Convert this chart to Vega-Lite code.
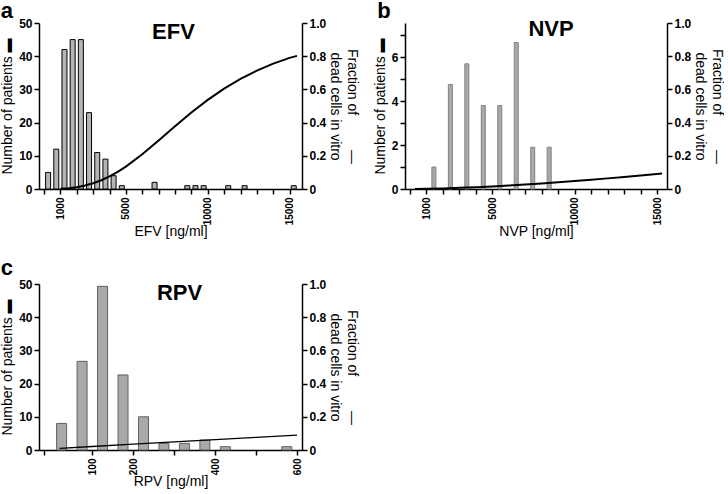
{
  "$schema": "https://vega.github.io/schema/vega-lite/v6.json",
  "padding": {"left": 0, "top": 0, "right": 0, "bottom": 0},
  "background": "white",
  "datasets": {
    "efv_bars": [
      {"conc": 250, "patients": 5}, {"conc": 750, "patients": 12}, {"conc": 1250, "patients": 42},
      {"conc": 1750, "patients": 45}, {"conc": 2250, "patients": 45}, {"conc": 2750, "patients": 23},
      {"conc": 3250, "patients": 11}, {"conc": 3750, "patients": 9}, {"conc": 4250, "patients": 4},
      {"conc": 4750, "patients": 1}, {"conc": 6750, "patients": 2}, {"conc": 8750, "patients": 1},
      {"conc": 9250, "patients": 1}, {"conc": 9750, "patients": 1}, {"conc": 11250, "patients": 1},
      {"conc": 12250, "patients": 1}, {"conc": 15250, "patients": 1}
    ],
    "efv_curve": [
      {"conc": 1000, "fraction": 0.0015}, {"conc": 1500, "fraction": 0.005}, {"conc": 2000, "fraction": 0.011},
      {"conc": 2500, "fraction": 0.021}, {"conc": 3000, "fraction": 0.035}, {"conc": 3500, "fraction": 0.053},
      {"conc": 4000, "fraction": 0.076}, {"conc": 4500, "fraction": 0.103}, {"conc": 5000, "fraction": 0.135},
      {"conc": 6000, "fraction": 0.209}, {"conc": 7000, "fraction": 0.292}, {"conc": 8000, "fraction": 0.378},
      {"conc": 9000, "fraction": 0.461}, {"conc": 10000, "fraction": 0.537}, {"conc": 11000, "fraction": 0.605},
      {"conc": 12000, "fraction": 0.663}, {"conc": 13000, "fraction": 0.713}, {"conc": 14000, "fraction": 0.755},
      {"conc": 15000, "fraction": 0.79}, {"conc": 15450, "fraction": 0.802}
    ],
    "nvp_bars": [
      {"conc": 1450, "patients": 1.0}, {"conc": 2450, "patients": 4.76}, {"conc": 3450, "patients": 5.7},
      {"conc": 4450, "patients": 3.8}, {"conc": 5450, "patients": 3.8}, {"conc": 6450, "patients": 6.67},
      {"conc": 7450, "patients": 1.9}, {"conc": 8450, "patients": 1.9}
    ],
    "nvp_curve": [
      {"conc": 300, "fraction": 0.0}, {"conc": 1000, "fraction": 0.0012}, {"conc": 2000, "fraction": 0.0036},
      {"conc": 3000, "fraction": 0.0069}, {"conc": 4000, "fraction": 0.011}, {"conc": 5000, "fraction": 0.0157},
      {"conc": 6000, "fraction": 0.021}, {"conc": 7000, "fraction": 0.027}, {"conc": 8000, "fraction": 0.033},
      {"conc": 9000, "fraction": 0.04}, {"conc": 10000, "fraction": 0.048}, {"conc": 11000, "fraction": 0.055},
      {"conc": 12000, "fraction": 0.064}, {"conc": 13000, "fraction": 0.072}, {"conc": 14000, "fraction": 0.082},
      {"conc": 15300, "fraction": 0.094}
    ],
    "rpv_bars": [
      {"conc": 25, "patients": 8}, {"conc": 75, "patients": 26.7}, {"conc": 125, "patients": 49.3},
      {"conc": 175, "patients": 22.6}, {"conc": 225, "patients": 10}, {"conc": 275, "patients": 2},
      {"conc": 325, "patients": 2}, {"conc": 375, "patients": 3}, {"conc": 425, "patients": 1},
      {"conc": 575, "patients": 1}
    ],
    "rpv_curve": [
      {"conc": 20, "fraction": 0.01}, {"conc": 100, "fraction": 0.021}, {"conc": 200, "fraction": 0.035},
      {"conc": 300, "fraction": 0.049}, {"conc": 400, "fraction": 0.062}, {"conc": 500, "fraction": 0.076},
      {"conc": 600, "fraction": 0.09}
    ]
  },
  "spacing": 18,
  "vconcat": [
    {
      "spacing": 14,
      "hconcat": [
        {
          "title": {"text": "a", "anchor": "start", "fontSize": 22, "fontWeight": "bold", "offset": -6},
          "vconcat": [
            {
              "width": 263,
              "height": 166,
              "title": {"text": "EFV", "fontSize": 22, "fontWeight": "bold", "anchor": "middle", "offset": -27, "dx": 3},
              "encoding": {
                "x": {"field": "conc", "type": "quantitative",
                  "scale": {"domain": [0, 15450], "nice": false, "zero": false},
                  "axis": {"values": [0,1000,2000,3000,4000,5000,6000,7000,8000,9000,10000,11000,12000,13000,14000,15000],
                    "labelExpr": "indexof([1000,5000,10000,15000], datum.value) >= 0 ? format(datum.value, 'd') : ''",
                    "labelAngle": -90, "labelFontSize": 10, "labelPadding": 3, "titlePadding": 0, "title": "EFV [ng/ml]"}}
              },
              "layer": [
                {
                  "data": {"name": "efv_bars"},
                  "mark": {"type": "bar", "size": 5, "fill": "#b4b4b4", "stroke": "black", "strokeWidth": 1},
                  "encoding": {
                    "y": {"field": "patients", "type": "quantitative",
                      "scale": {"domain": [0, 50], "nice": false},
                      "axis": {"orient": "left", "values": [0,10,20,30,40,50], "title": "Number of patients ▬"}}
                  }
                },
                {
                  "data": {"name": "efv_curve"},
                  "mark": {"type": "line", "color": "black", "strokeWidth": 2},
                  "encoding": {
                    "y": {"field": "fraction", "type": "quantitative",
                      "scale": {"domain": [0, 1], "nice": false},
                      "axis": {"orient": "right", "values": [0,0.2,0.4,0.6,0.8,1.0],
                        "labelExpr": "datum.value == 0 ? '0' : format(datum.value, '.1f')",
                        "titleAngle": 90, "titleLineHeight": 17, "titlePadding": 2,
                        "title": ["\u00a0\u00a0\u00a0\u00a0\u00a0Fraction of\u00a0\u00a0\u00a0\u00a0\u00a0\u00a0\u00a0\u00a0\u00a0—", "dead cells in vitro\u00a0\u00a0\u00a0\u00a0\u00a0\u00a0\u00a0"]}}
                  }
                }
              ],
              "resolve": {"scale": {"y": "independent"}}
            }
          ]
        },
        {
          "title": {"text": "b", "anchor": "start", "fontSize": 22, "fontWeight": "bold", "offset": -6, "dx": 4},
          "vconcat": [
            {
              "width": 262,
              "height": 166,
              "title": {"text": "NVP", "fontSize": 22, "fontWeight": "bold", "anchor": "middle", "offset": -24, "dx": 15},
              "encoding": {
                "x": {"field": "conc", "type": "quantitative",
                  "scale": {"domain": [0, 15300], "nice": false, "zero": false},
                  "axis": {"values": [0,1000,2000,3000,4000,5000,6000,7000,8000,9000,10000,11000,12000,13000,14000,15000],
                    "labelExpr": "indexof([1000,5000,10000,15000], datum.value) >= 0 ? format(datum.value, 'd') : ''",
                    "labelAngle": -90, "labelFontSize": 10, "labelPadding": 3, "titlePadding": 0, "title": "NVP [ng/ml]"}}
              },
              "layer": [
                {
                  "data": {"name": "nvp_bars"},
                  "mark": {"type": "bar", "size": 4, "fill": "#a9a9a9", "stroke": "#808080", "strokeWidth": 1},
                  "encoding": {
                    "y": {"field": "patients", "type": "quantitative",
                      "scale": {"domain": [0, 7.56], "nice": false},
                      "axis": {"orient": "left", "values": [0,1,2,3,4,5,6,7],
                        "labelExpr": "datum.value % 2 == 0 ? format(datum.value, 'd') : ''",
                        "title": "Number of patients ▬"}}
                  }
                },
                {
                  "data": {"name": "nvp_curve"},
                  "mark": {"type": "line", "color": "black", "strokeWidth": 2},
                  "encoding": {
                    "y": {"field": "fraction", "type": "quantitative",
                      "scale": {"domain": [0, 1], "nice": false},
                      "axis": {"orient": "right", "values": [0,0.2,0.4,0.6,0.8,1.0],
                        "labelExpr": "datum.value == 0 ? '0' : format(datum.value, '.1f')",
                        "titleAngle": 90, "titleLineHeight": 17, "titlePadding": 2,
                        "title": ["\u00a0\u00a0\u00a0\u00a0\u00a0Fraction of\u00a0\u00a0\u00a0\u00a0\u00a0\u00a0\u00a0\u00a0\u00a0—", "dead cells in vitro\u00a0\u00a0\u00a0\u00a0\u00a0\u00a0\u00a0"]}}
                  }
                }
              ],
              "resolve": {"scale": {"y": "independent"}}
            }
          ]
        }
      ]
    },
    {
      "title": {"text": "c", "anchor": "start", "fontSize": 22, "fontWeight": "bold", "offset": -2},
      "vconcat": [
        {
          "width": 263,
          "height": 166,
          "title": {"text": "RPV", "fontSize": 22, "fontWeight": "bold", "anchor": "middle", "offset": -27, "dx": 9},
          "encoding": {
            "x": {"field": "conc", "type": "quantitative",
              "scale": {"domain": [-18, 600], "nice": false, "zero": false},
              "axis": {"values": [-18,100,200,300,400,500,600],
                "labelExpr": "indexof([100,200,400,600], datum.value) >= 0 ? format(datum.value, 'd') : ''",
                "labelAngle": -90, "labelFontSize": 10, "labelPadding": 3, "titlePadding": 0, "title": "RPV [ng/ml]"}}
          },
          "layer": [
            {
              "data": {"name": "rpv_bars"},
              "mark": {"type": "bar", "size": 10, "fill": "#a9a9a9", "stroke": "#606060", "strokeWidth": 1},
              "encoding": {
                "y": {"field": "patients", "type": "quantitative",
                  "scale": {"domain": [0, 50], "nice": false},
                  "axis": {"orient": "left", "values": [0,10,20,30,40,50], "title": "Number of patients ▬"}}
              }
            },
            {
              "data": {"name": "rpv_curve"},
              "mark": {"type": "line", "color": "black", "strokeWidth": 1.3},
              "encoding": {
                "y": {"field": "fraction", "type": "quantitative",
                  "scale": {"domain": [0, 1], "nice": false},
                  "axis": {"orient": "right", "values": [0,0.2,0.4,0.6,0.8,1.0],
                    "labelExpr": "datum.value == 0 ? '0' : format(datum.value, '.1f')",
                    "titleAngle": 90, "titleLineHeight": 17, "titlePadding": 2,
                    "title": ["\u00a0\u00a0\u00a0\u00a0\u00a0Fraction of\u00a0\u00a0\u00a0\u00a0\u00a0\u00a0\u00a0\u00a0\u00a0—", "dead cells in vitro\u00a0\u00a0\u00a0\u00a0\u00a0\u00a0\u00a0"]}}
              }
            }
          ],
          "resolve": {"scale": {"y": "independent"}}
        }
      ]
    }
  ],
  "config": {
    "font": "Liberation Sans",
    "view": {"stroke": null},
    "title": {"color": "black", "font": "Liberation Sans"},
    "axis": {
      "domainColor": "black", "tickColor": "black", "domainWidth": 1.5, "tickWidth": 1.5, "tickSize": 5,
      "labelFont": "Liberation Sans", "labelFontWeight": "bold", "labelColor": "black", "labelFontSize": 12,
      "labelPadding": 2, "labelFlush": false, "labelOverlap": false,
      "titleFont": "Liberation Sans", "titleFontWeight": "normal", "titleColor": "black", "titleFontSize": 14,
      "titlePadding": 4, "grid": false
    }
  }
}
